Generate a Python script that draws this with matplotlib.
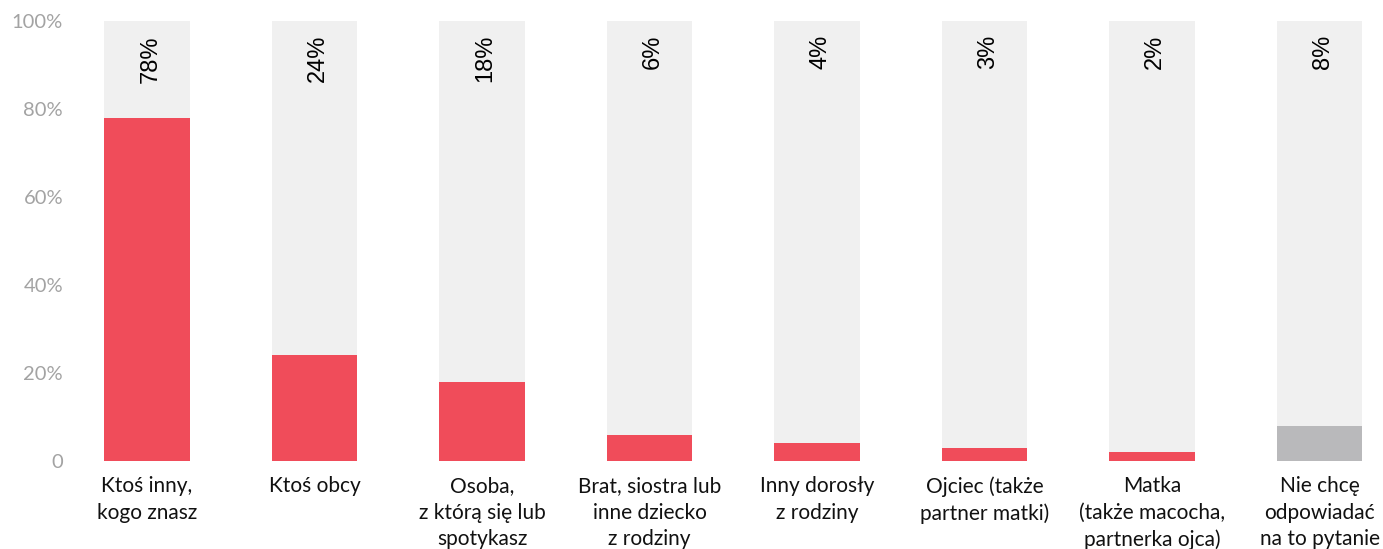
import matplotlib
matplotlib.use('Agg')
import matplotlib.pyplot as plt

categories = ['Ktoś inny,\nkogo znasz', 'Ktoś obcy', 'Osoba,\nz którą się lub\nspotykasz',
              'Brat, siostra lub\ninne dziecko\nz rodziny', 'Inny dorosły\nz rodziny',
              'Ojciec (także\npartner matki)', 'Matka\n(także macocha,\npartnerka ojca)',
              'Nie chcę\nodpowiadać\nna to pytanie']
values = [78, 24, 18, 6, 4, 3, 2, 8]
value_labels = ['78%', '24%', '18%', '6%', '4%', '3%', '2%', '8%']
yticks = [0, 20, 40, 60, 80, 100]
ytick_labels = ['0', '20%', '40%', '60%', '80%', '100%']

RED = '#f04c5a'
GREY = '#b9b9bb'
BG = '#f0f0f0'


def main():
  fig = plt.figure(figsize=(13.83, 5.49), dpi=100)
  W, H = 1383.0, 549.0
  # axes placed in pixels: bar 0 centre at 147px, step 167.5px
  left, right, top, bottom = 95, 1370, 21, 461
  ax = fig.add_axes([left / W, (H - bottom) / H, (right - left) / W, (bottom - top) / H])
  step = 167.5
  ax.set_xlim((left - 147) / step, (right - 147) / step)
  ax.set_ylim(0, 100)

  x = list(range(len(values)))
  colors = [RED] * (len(values) - 1) + [GREY]
  ax.bar(x, [100] * len(values), width=0.513, color=BG, zorder=1)
  ax.bar(x, values, width=0.513, color=colors, zorder=2)

  for xi, lab in zip(x, value_labels):
    ax.text(xi + 0.02, 96.8, lab, rotation=90, ha='center', va='top',
            fontsize=17, family='Liberation Sans', color='black', zorder=3)

  for s in ax.spines.values():
    s.set_visible(False)

  ax.set_yticks(yticks)
  ax.set_yticklabels(ytick_labels, family='Lato', fontsize=14.5, color='#a3a3a3')
  ax.set_xticks(x)
  ax.set_xticklabels(categories, family='Lato', fontsize=15, color='#111111',
                     linespacing=1.4)
  ax.tick_params(axis='both', length=0)
  ax.tick_params(axis='x', pad=11)
  ax.tick_params(axis='y', pad=23)
  for t in ax.get_yticklabels():
    t.set_ha('right')

  fig.savefig('out.png', dpi=100)


if __name__ == "__main__":
  main()
